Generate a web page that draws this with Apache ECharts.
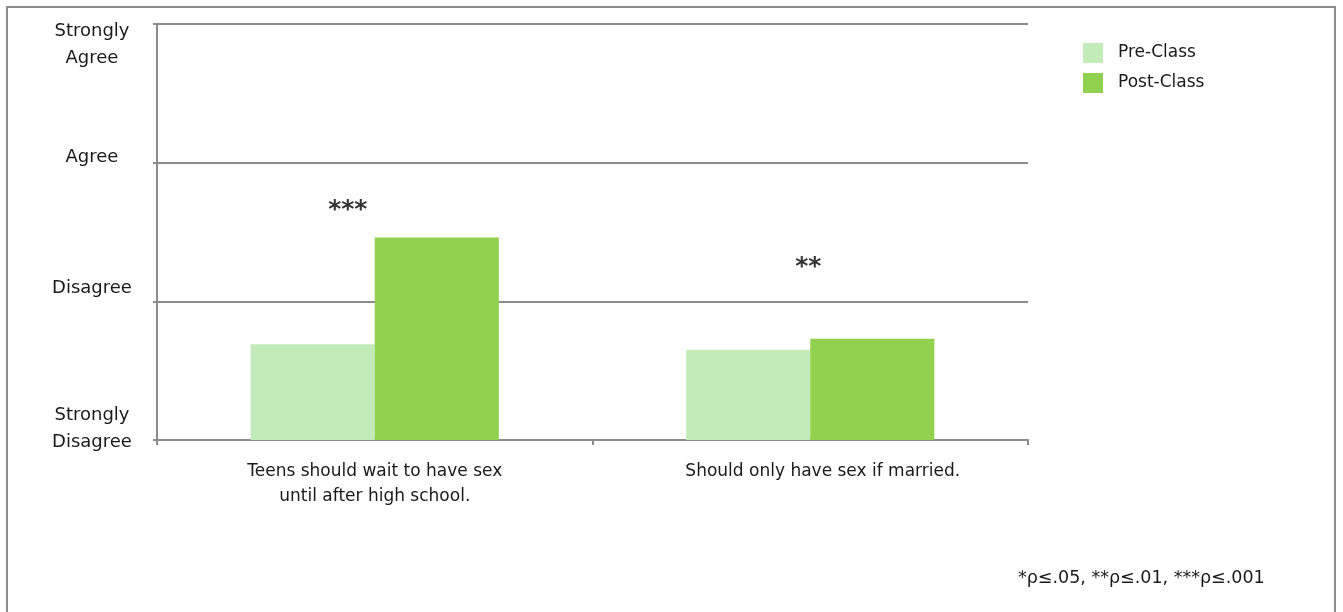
<!DOCTYPE html>
<html>
<head>
<meta charset="utf-8">
<script src="https://cdn.jsdelivr.net/npm/echarts@6/dist/echarts.min.js"></script>
<style>
html,body{margin:0;padding:0;background:#fff;}
#chart{width:1343px;height:612px;}
</style>
</head>
<body>
<div id="chart"></div>
<script>
const categories = ['Teens should wait to have sex\nuntil after high school.', 'Should only have sex if married.'];
const preClass = [1.69, 1.65];
const postClass = [2.46, 1.73];
const yTickLabels = ['Strongly\nDisagree', 'Disagree', 'Agree', 'Strongly\nAgree'];
const sigMarks = ['***', '**'];
const sigValues = [2.70, 2.29];
const footnote = '*\u03c1\u2264.05, **\u03c1\u2264.01, ***\u03c1\u2264.001';

const FONT = 'DejaVu Sans';
const chart = echarts.init(document.getElementById('chart'));

// per-label vertical adjustment (spacer line above/below, in px)
const labelShift = {1: {bottom: 23}, 2: {bottom: 26}, 3: {bottom: 11}, 4: {top: 41}};
// horizontal nudge for category labels (px of left padding)
const catLabelPad = [0, 25];

chart.setOption({
  animation: false,
  textStyle: {fontFamily: FONT},
  graphic: [
    {type: 'rect', shape: {x: 7, y: 7, width: 1328, height: 620},
     style: {fill: 'none', stroke: '#8c8c8c', lineWidth: 2}, silent: true, z: 0},
    {type: 'text', x: 1018, y: 578,
     style: {text: footnote, font: '17.5px "' + FONT + '"', fill: '#1a1a1a', verticalAlign: 'middle'}}
  ],
  legend: {
    data: ['Pre-Class', 'Post-Class'],
    orient: 'vertical',
    left: 1083, top: 43, padding: 0,
    itemWidth: 20, itemHeight: 20, itemGap: 10,
    icon: 'rect',
    textStyle: {fontSize: 17, color: '#1a1a1a', fontFamily: FONT, padding: [0, 0, 0, 10]}
  },
  grid: {left: 157, right: 315, top: 24, bottom: 172, containLabel: false, outerBoundsMode: 'none'},
  xAxis: {
    type: 'category',
    data: categories.map((c, i) => ({value: c, textStyle: {padding: [0, 0, 0, catLabelPad[i]]}})),
    axisLine: {lineStyle: {color: '#8c8c8c', width: 2}},
    axisTick: {show: true, length: 5, lineStyle: {color: '#8c8c8c', width: 2}},
    axisLabel: {fontSize: 17, color: '#1a1a1a', lineHeight: 25, margin: 19, fontFamily: FONT}
  },
  yAxis: {
    type: 'value',
    min: 1, max: 4, interval: 1,
    axisLine: {show: true, lineStyle: {color: '#8c8c8c', width: 2}},
    axisTick: {show: true, length: 4, lineStyle: {color: '#8c8c8c', width: 2}},
    splitLine: {show: true, lineStyle: {color: '#8c8c8c', width: 2}},
    axisLabel: {
      align: 'center', margin: 65,
      formatter: function (v) {
        const t = yTickLabels[v - 1];
        if (!t) return '';
        const s = labelShift[v] || {};
        let out = t.split('\n').map(l => '{t|' + l + '}').join('\n');
        if (s.top) out = '{s' + v + '| }\n' + out;
        if (s.bottom) out = out + '\n{s' + v + '| }';
        return out;
      },
      rich: {
        t: {fontSize: 18, lineHeight: 27, color: '#1a1a1a', fontFamily: FONT, align: 'center'},
        s1: {fontSize: 1, lineHeight: 23},
        s2: {fontSize: 1, lineHeight: 26},
        s3: {fontSize: 1, lineHeight: 11},
        s4: {fontSize: 1, lineHeight: 41}
      }
    }
  },
  series: [
    {name: 'Pre-Class', type: 'bar', data: preClass, barGap: '0%', barCategoryGap: '43%',
     itemStyle: {color: '#C3EBB9'}},
    {name: 'Post-Class', type: 'bar', data: postClass, barGap: '0%', barCategoryGap: '43%',
     itemStyle: {color: '#92D050'}},
    {name: 'sig', type: 'scatter', symbolSize: 1, itemStyle: {color: 'rgba(0,0,0,0)'},
     data: sigValues.map((v, i) => ({value: [i, v], label: {formatter: sigMarks[i], offset: [i === 0 ? -27 : -2, 6]}})),
     label: {show: true, position: 'inside', fontSize: 25, fontWeight: 'bold', color: '#000', fontFamily: 'DejaVu Sans'},
     tooltip: {show: false}, z: 5}
  ]
});
</script>
</body>
</html>
